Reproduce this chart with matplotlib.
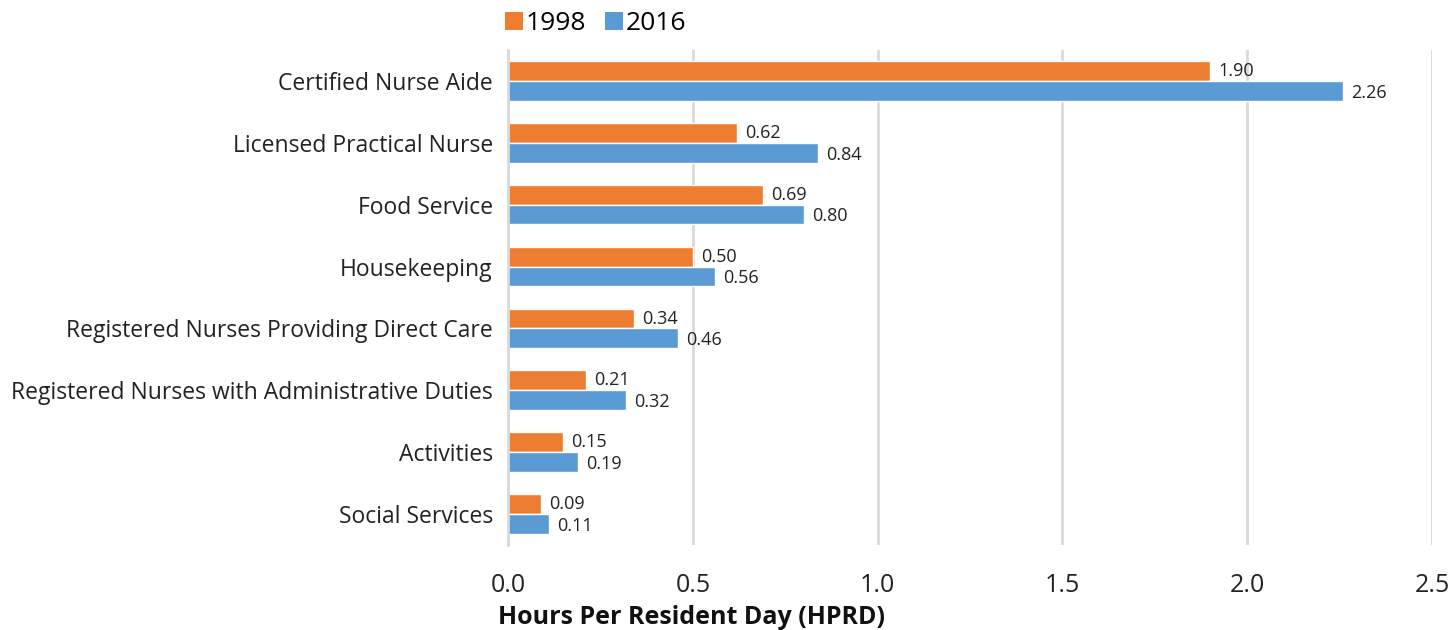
import matplotlib
matplotlib.use('Agg')
import matplotlib.pyplot as plt
from matplotlib.patches import Patch
import numpy as np

categories = ['Certified Nurse Aide', 'Licensed Practical Nurse', 'Food Service',
              'Housekeeping', 'Registered Nurses Providing Direct Care',
              'Registered Nurses with Administrative Duties', 'Activities',
              'Social Services']
vals_1998 = [1.90, 0.62, 0.69, 0.50, 0.34, 0.21, 0.15, 0.09]
vals_2016 = [2.26, 0.84, 0.80, 0.56, 0.46, 0.32, 0.19, 0.11]
series_names = ['1998', '2016']

orange = '#ED7D31'
blue = '#5B9BD5'
plt.rcParams['font.family'] = ['Open Sans', 'DejaVu Sans']

fig = plt.figure(figsize=(14.52, 6.3), dpi=100)
ax = fig.add_axes([0.3499, 0.135, 0.6363, 0.7856])

y = np.arange(len(categories))
h = 0.32
ax.barh(y - h / 2, vals_1998, height=h, color=orange, edgecolor='white', linewidth=1)
ax.barh(y + h / 2, vals_2016, height=h, color=blue, edgecolor='white', linewidth=1)

# value labels
for i in range(len(categories)):
    ax.text(vals_1998[i] + 0.022, y[i] - h / 2, '%.2f' % vals_1998[i],
            va='center', ha='left', fontsize=13, color='#222222')
    ax.text(vals_2016[i] + 0.022, y[i] + h / 2 + 0.03, '%.2f' % vals_2016[i],
            va='center', ha='left', fontsize=13, color='#222222')

ax.set_ylim(len(categories) - 0.5, -0.5)
ax.set_xlim(0, 2.5)
ax.set_xticks([0, 0.5, 1.0, 1.5, 2.0, 2.5])
ax.set_xticklabels(['0.0', '0.5', '1.0', '1.5', '2.0', '2.5'])
ax.set_yticks(y)
ax.set_yticklabels(categories)
ax.tick_params(axis='y', length=0, pad=11, labelsize=16.5, labelcolor='#222222')
ax.tick_params(axis='x', length=0, pad=20, labelsize=18, labelcolor='#222222')

ax.grid(axis='x', color='#d9d9d9', linewidth=2)
ax.set_axisbelow(True)
for s in ['top', 'right', 'bottom']:
    ax.spines[s].set_visible(False)
ax.spines['left'].set_color('#d9d9d9')
ax.spines['left'].set_linewidth(2)

fig.text(692 / 1452, 1 - 618 / 630, 'Hours Per Resident Day (HPRD)', fontsize=18,
         fontweight='bold', color='#111111', ha='center', va='center')

handles = [Patch(facecolor=orange), Patch(facecolor=blue)]
fig.legend(handles, series_names, loc='center left', bbox_to_anchor=(0.3475, 0.962),
           ncol=2, frameon=False, fontsize=19, handlelength=0.7, handleheight=0.7,
           handletextpad=0.1, columnspacing=0.7, borderaxespad=0, borderpad=0)

fig.savefig('out.png', dpi=100)
